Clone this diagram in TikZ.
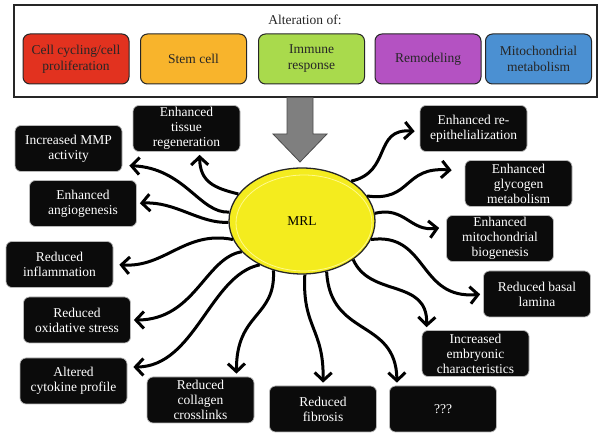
\documentclass[tikz,border=0pt]{standalone}
\usepackage{fontspec}
\setmainfont{Liberation Serif}
\newfontfamily\tnr{Liberation Serif}
\usetikzlibrary{shapes.geometric,arrows.meta}
\definecolor{cred}{HTML}{E2321F}
\definecolor{corange}{HTML}{F8B42C}
\definecolor{cgreen}{HTML}{A9DA4C}
\definecolor{cpurple}{HTML}{B452C2}
\definecolor{cblue}{HTML}{4B90D2}
\definecolor{myyellow}{HTML}{F4EC1E}
\definecolor{boxblack}{HTML}{0B0B0B}
\definecolor{arrgrey}{HTML}{7F7F7F}
\tikzset{
  topbox/.style={rectangle, rounded corners=7pt, draw=black!85, line width=1pt,
    minimum width=106pt, minimum height=50pt, inner sep=1pt, align=center,
    font=\tnr\fontsize{13.5}{16}\selectfont, text=black!85},
  effbox/.style={rectangle, rounded corners=6pt, fill=boxblack, draw=gray!55, line width=0.7pt,
    minimum width=107pt, minimum height=46pt, inner sep=1pt, align=center,
    font=\tnr\fontsize{13.5}{15}\selectfont, text=white},
  conn/.style={draw=black, line width=3pt, line join=round,
    -{Straight Barb[length=8pt,width=17pt]}, shorten >=3pt}
}
\begin{document}
\begin{tikzpicture}[x=1pt,y=-1pt]
\useasboundingbox (0,0) rectangle (603,438);
% top box
\node[rectangle, draw=black!85, line width=1.2pt, minimum width=583pt, minimum height=92pt, inner sep=0pt] (altbox) at (305.5,51) {};
\node[font=\tnr\fontsize{13.5}{15}\selectfont, text=black!85] (alttitle) at (305,20) {Alteration of:};
\node[topbox, fill=cred] (cell) at (76,59) {Cell cycling/cell\\proliferation};
\node[topbox, fill=corange] (stem) at (193.5,59) {Stem cell};
\node[topbox, fill=cgreen] (immune) at (311.5,59) {Immune\\response};
\node[topbox, fill=cpurple] (remod) at (428,59) {Remodeling};
\node[topbox, fill=cblue] (mitom) at (538.5,59) {Mitochondrial\\metabolism};
% grey arrow
\draw[fill=arrgrey, draw=black!70, line width=0.8pt, line join=miter]
  (287,97.6) -- (313,97.6) -- (313,134) -- (327,134) -- (300,162) -- (273,134) -- (287,134) -- cycle;
% ellipse
\node[ellipse, fill=myyellow, draw=black!85, line width=1.3pt, minimum width=146pt, minimum height=106pt,
  font=\tnr\fontsize{13.5}{15}\selectfont] (mrl) at (302,221) {MRL};
\draw[draw=yellow!45!white, line width=0.8pt] (304,223) ellipse [x radius=68pt, y radius=48pt];
% effect boxes
\node[effbox] (tiss) at (186.5,128.5) {Enhanced\\tissue\\regeneration};
\node[effbox] (mmp) at (68.5,148.5) {Increased MMP\\activity};
\node[effbox] (angio) at (83,203.5) {Enhanced\\angiogenesis};
\node[effbox] (infl) at (59.5,264.5) {Reduced\\inflammation};
\node[effbox] (oxid) at (77,320) {Reduced\\oxidative stress};
\node[effbox] (cyto) at (73.5,381) {Altered\\cytokine profile};
\node[effbox] (coll) at (200.5,400) {Reduced\\collagen\\crosslinks};
\node[effbox] (fib) at (323,409) {Reduced\\fibrosis};
\node[effbox] (q) at (443,409) {???};
\node[effbox] (emb) at (475.5,353.5) {Increased\\embryonic\\characteristics};
\node[effbox] (basal) at (537,294) {Reduced basal\\lamina};
\node[effbox] (mito) at (500,238.5) {Enhanced\\mitochondrial\\biogenesis};
\node[effbox] (glyc) at (518.5,183.5) {Enhanced\\glycogen\\metabolism};
\node[effbox] (epi) at (473.5,128.5) {Enhanced re-\\epithelialization};
% connectors
\draw[conn] (mrl.157) .. controls (214,188) and (200,182) .. ([xshift=13pt]tiss.south);
\draw[conn] (mrl.173) .. controls (200,214) and (185,168) .. ([xshift=4pt,yshift=-17pt]mmp.east);
\draw[conn] (mrl.181) .. controls (200,224) and (175,201) .. (angio.east);
\draw[conn] (mrl.195) .. controls (185,230) and (165,268) .. ([xshift=3pt]infl.east);
\draw[conn] (mrl.207) .. controls (205,258) and (195,320) .. (oxid.east);
\draw[conn] (mrl.226) .. controls (210,275) and (195,367) .. ([xshift=3pt,yshift=14pt]cyto.east);
\draw[conn] (mrl.240) .. controls (276,318) and (236,312) .. ([xshift=36pt]coll.north);
\draw[conn] (mrl.273) .. controls (302,328) and (324,328) .. (fib.north);
\draw[conn] (mrl.296) .. controls (330,338) and (396,318) .. ([xshift=-46pt]q.north);
\draw[conn] (mrl.323) .. controls (370,298) and (428,278) .. ([xshift=-49pt]emb.north);
\draw[conn] (mrl.345) .. controls (428,232) and (418,300) .. (basal.west);
\draw[conn] (mrl.6) .. controls (405,206) and (410,232) .. ([xshift=-4pt,yshift=11pt]mito.west);
\draw[conn] (mrl.21) .. controls (412,202) and (403,166) .. ([xshift=-10pt,yshift=13pt]glyc.west);
\draw[conn] (mrl.39) .. controls (392,172) and (373,128) .. ([xshift=-2pt,yshift=-3pt]epi.west);
\end{tikzpicture}
\end{document}
